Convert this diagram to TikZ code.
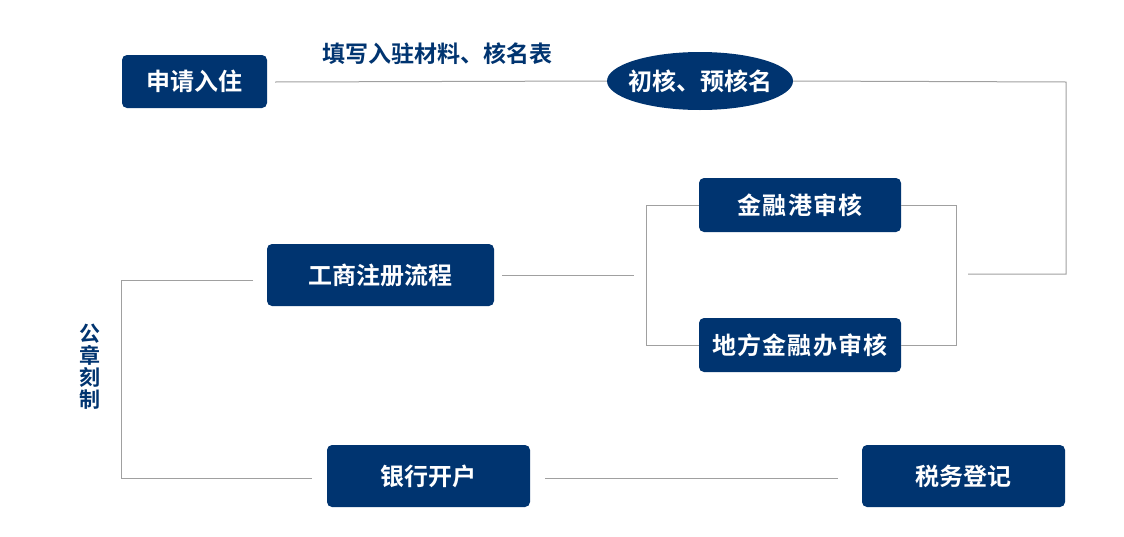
\documentclass[tikz,border=0pt]{standalone}
\usepackage{fontspec}
\setmainfont{Noto Sans CJK SC}[BoldFont={* Bold}]
\usetikzlibrary{shapes.geometric}
\definecolor{navy}{HTML}{003470}
\definecolor{linegray}{HTML}{A0A0A0}
\newcommand{\gp}{\kern1.3pt}
\tikzset{
  box/.style={fill=navy, rounded corners=5pt, text=white, font=\fontsize{24}{26}\selectfont\bfseries, inner sep=0pt, align=center},
  oval/.style={ellipse, fill=navy, text=white, font=\fontsize{24}{26}\selectfont\bfseries, inner sep=0pt, minimum width=186pt, minimum height=58pt},
  conn/.style={draw=linegray, line width=1pt},
  lbl/.style={text=navy, font=\fontsize{23}{25}\selectfont\bfseries, inner sep=0pt}
}
\begin{document}
\begin{tikzpicture}[x=1pt,y=-1pt]
\useasboundingbox (0,0) rectangle (1124,536);
\fill[white] (0,0) rectangle (1124,536);
\node[box, minimum width=145pt, minimum height=53pt] (apply) at (194.5,81.5) {申请入住};
\node[oval] (init) at (700,81) {\makebox[100pt][c]{初核、预核名}};
\node[lbl] (fill) at (437,54) {填写入驻材料、核名表};
\node[box, minimum width=202pt, minimum height=54pt] (jrg) at (800,205) {金\gp 融\gp 港\gp 审\gp 核};
\node[box, minimum width=202pt, minimum height=54pt] (dfj) at (800,345) {地\gp 方\gp 金\gp 融\gp 办\gp 审\gp 核};
\node[box, minimum width=227pt, minimum height=62pt] (gs) at (380.5,275) {工商注册流程};
\node[box, minimum width=203pt, minimum height=62pt] (bank) at (428.5,476) {银行开户};
\node[box, minimum width=203pt, minimum height=62pt] (tax) at (963.5,476) {税务登记};
\node[lbl, align=center, font=\fontsize{21}{22}\selectfont\bfseries] (seal) at (90,367) {公\\章\\刻\\制};

\coordinate (a1) at (275,82);
\coordinate (a2) at (1066,82);
\coordinate (a3) at (1066,274);
\coordinate (a4) at (968,274);
\draw[conn] (a1) -- (init.west);
\draw[conn] (init.east) -- (a2) -- (a3) -- (a4);

\coordinate (b1) at (646,205);
\coordinate (b2) at (646,345);
\draw[conn] (jrg.west) -- (b1) -- (b2) -- (dfj.west);
\coordinate (c1) at (956,205);
\coordinate (c2) at (956,345);
\draw[conn] (jrg.east) -- (c1) -- (c2) -- (dfj.east);

\coordinate (d1) at (502,275);
\coordinate (d2) at (634,275);
\draw[conn] (d1) -- (d2);

\coordinate (e1) at (253,280);
\coordinate (e2) at (121,280);
\coordinate (e3) at (121,478);
\coordinate (e4) at (312,478);
\draw[conn] (e1) -- (e2) -- (e3) -- (e4);

\coordinate (f1) at (545,478);
\coordinate (f2) at (838,478);
\draw[conn] (f1) -- (f2);
\end{tikzpicture}
\end{document}
